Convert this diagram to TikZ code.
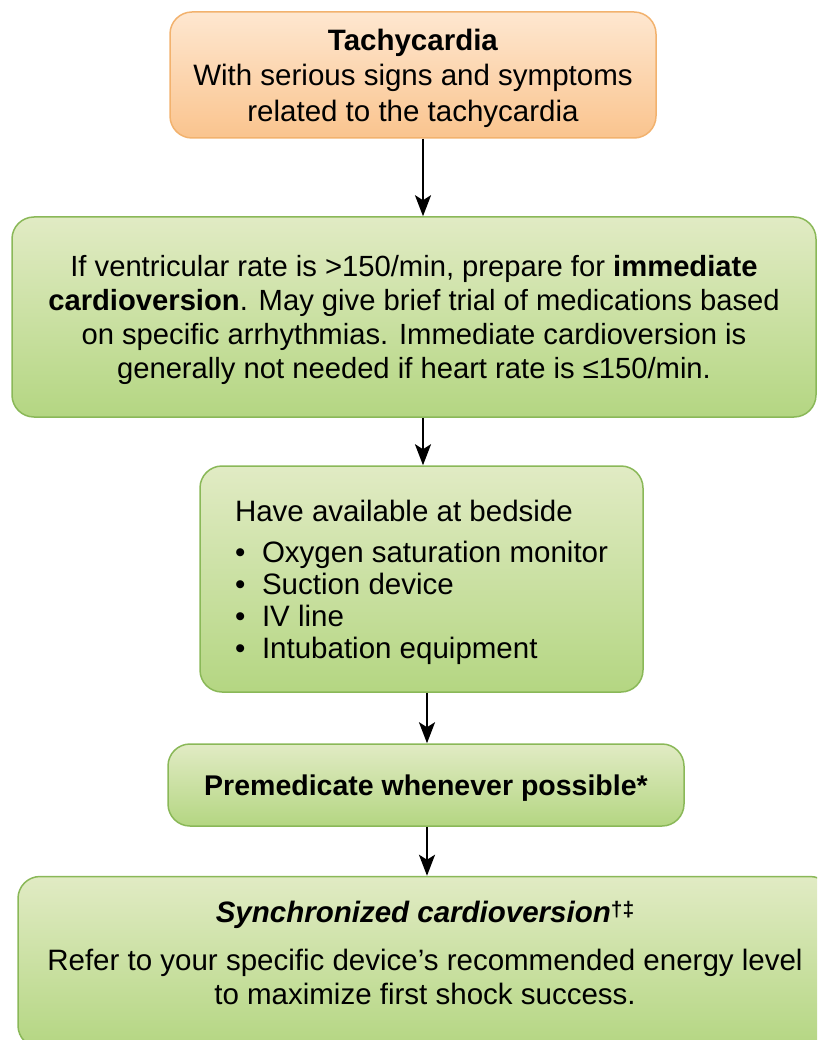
\documentclass[tikz,border=0pt]{standalone}
\usepackage{fontspec}
\setmainfont{Liberation Sans}
\usetikzlibrary{arrows.meta,calc}
\definecolor{orangetop}{RGB}{254,231,208}
\definecolor{orangebot}{RGB}{250,196,142}
\definecolor{orangeline}{RGB}{242,178,110}
\definecolor{greentop}{RGB}{225,235,196}
\definecolor{greenbot}{RGB}{180,214,130}
\definecolor{greenline}{RGB}{138,184,88}
\tikzset{%
  >={Stealth[width=16pt,length=21pt,inset=5pt]},
  % Specifications for style of nodes:
            base/.style = {rectangle, rounded corners=22pt, line width=1.5pt,
                           inner sep=0pt, align=center, text depth=0pt,
                           font=\fontsize{29.5}{34}\selectfont},
  start/.style = {base, draw=orangeline, top color=orangetop, bottom color=orangebot},
       action/.style = {base, draw=greenline, top color=greentop, bottom color=greenbot},
}

\begin{document}
\begin{tikzpicture}[x=1pt, y=-1pt, line width=2.5pt]
  \clip (0,0) rectangle (817,1040);
  % Specification of nodes (position, etc.)
  \node (tachy) [start, minimum width=486, minimum height=126,
         font=\fontsize{29.5}{35.5}\selectfont] at (413,75)
        {\textbf{Tachycardia}\\With serious signs and symptoms\\related to the tachycardia};
  \node (rate) [action, minimum width=804, minimum height=200,
         font=\fontsize{29.2}{34}\selectfont] at (414,317)
        {If ventricular rate is >150/min, prepare for \textbf{immediate}\\
         \textbf{cardioversion}. May give brief trial of medications based\\
         on specific arrhythmias. Immediate cardioversion is\\
         generally not needed if heart rate is ≤150/min.};
  \node (kit) [action, minimum width=443, minimum height=226, align=left,
         font=\fontsize{29.5}{32}\selectfont] at (421.5,579)
        {Have available at bedside\\[9pt]
         \makebox[27pt][l]{\textbullet}Oxygen saturation monitor\\
         \makebox[27pt][l]{\textbullet}Suction device\\
         \makebox[27pt][l]{\textbullet}IV line\\
         \makebox[27pt][l]{\textbullet}Intubation equipment};
  \node (premed) [action, minimum width=516, minimum height=82,
         font=\fontsize{28.5}{34}\selectfont] at (426,785)
        {\textbf{Premedicate whenever possible*}};
  \node (shock) [action, minimum width=814, minimum height=171, text depth=18pt] at (425,962)
        {\textbf{\textit{Synchronized cardioversion}}%
         \raisebox{6pt}{\fontsize{21}{21}\selectfont\bfseries †‡}\\[14pt]
         Refer to your specific device’s recommended energy level\\
         to maximize first shock success.};
  % Specification of lines between nodes specified above
  \draw[->] ([xshift=10pt]tachy.south) -- ([xshift=10pt]tachy.south |- rate.north);
  \draw[->] ([xshift=9pt]rate.south) -- ([xshift=9pt]rate.south |- kit.north);
  \draw[->] ([xshift=5.5pt]kit.south) -- ([xshift=5.5pt]kit.south |- premed.north);
  \draw[->] ([xshift=1pt]premed.south) -- ([xshift=1pt]premed.south |- shock.north);
\end{tikzpicture}
\end{document}
